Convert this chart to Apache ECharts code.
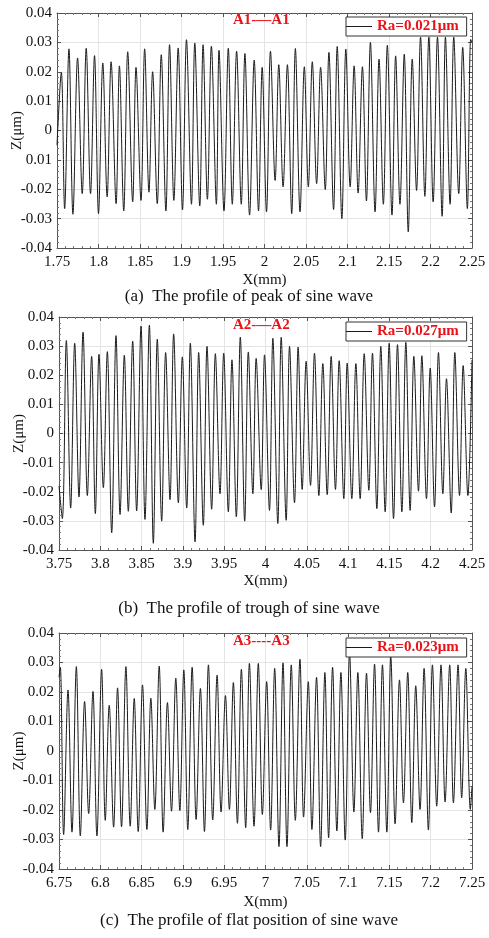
<!DOCTYPE html>
<html>
<head>
<meta charset="utf-8">
<script src="https://cdn.jsdelivr.net/npm/echarts@6/dist/echarts.min.js"></script>
<style>
html,body{margin:0;padding:0;background:#fff;}
#chart{width:489px;height:938px;}
</style>
</head>
<body>
<div id="chart"></div>
<script>
// Surface profiles: positions of the turning points (mm) and heights (µm)

// A1 — peak of the sine wave
const a1X = [1.7500,1.7552,1.7592,1.7644,1.7692,1.7748,1.7804,1.7852,1.7904,1.7952,1.8000,1.8052,1.8104,1.8152,1.8212,1.8252,1.8304,1.8352,1.8412,1.8452,1.8512,1.8556,1.8608,1.8652,1.8708,1.8756,1.8812,1.8856,1.8908,1.8960,1.9012,1.9060,1.9120,1.9160,1.9220,1.9260,1.9312,1.9360,1.9420,1.9452,1.9512,1.9564,1.9612,1.9664,1.9720,1.9764,1.9820,1.9876,1.9928,1.9972,2.0024,2.0072,2.0128,2.0172,2.0224,2.0276,2.0328,2.0372,2.0428,2.0480,2.0528,2.0576,2.0628,2.0676,2.0732,2.0776,2.0832,2.0876,2.0932,2.0980,2.1032,2.1080,2.1128,2.1180,2.1228,2.1276,2.1332,2.1380,2.1432,2.1480,2.1536,2.1580,2.1632,2.1684,2.1732,2.1780,2.1832,2.1880,2.1932,2.1980,2.2032,2.2084,2.2140,2.2180,2.2236,2.2280,2.2340,2.2388,2.2444,2.2484,2.2500];
const a1Z = [-0.005,0.0198,-0.0266,0.0278,-0.0285,0.0247,-0.0215,0.0280,-0.0215,0.0255,-0.0283,0.0230,-0.0226,0.0234,-0.0249,0.0220,-0.0274,0.0268,-0.0243,0.0215,-0.0238,0.0278,-0.0210,0.0200,-0.0249,0.0258,-0.0274,0.0292,-0.0238,0.0281,-0.0270,0.0309,-0.0251,0.0298,-0.0257,0.0292,-0.0234,0.0287,-0.0251,0.0273,-0.0274,0.0280,-0.0251,0.0270,-0.0251,0.0262,-0.0288,0.0240,-0.0274,0.0215,-0.0277,0.0270,-0.0170,0.0224,-0.0192,0.0224,-0.0283,0.0279,-0.0277,0.0217,-0.0192,0.0234,-0.0181,0.0215,-0.0201,0.0266,-0.0269,0.0286,-0.0300,0.0277,-0.0192,0.0220,-0.0213,0.0217,-0.0240,0.0300,-0.0277,0.0243,-0.0251,0.0290,-0.0288,0.0254,-0.0251,0.0260,-0.0345,0.0243,-0.0204,0.0318,-0.0224,0.0318,-0.0243,0.0318,-0.0292,0.0318,-0.0251,0.0318,-0.0215,0.0283,-0.0266,0.0310,0.0300];

// A2 — trough of the sine wave
const a2X = [3.7500,3.7540,3.7589,3.7641,3.7690,3.7742,3.7791,3.7843,3.7895,3.7940,3.7984,3.8037,3.8085,3.8138,3.8190,3.8239,3.8291,3.8339,3.8392,3.8440,3.8493,3.8541,3.8594,3.8642,3.8690,3.8743,3.8791,3.8844,3.8888,3.8945,3.8993,3.9046,3.9090,3.9147,3.9191,3.9247,3.9292,3.9348,3.9393,3.9449,3.9494,3.9550,3.9594,3.9647,3.9695,3.9748,3.9792,3.9847,3.9887,3.9948,3.9988,4.0048,4.0089,4.0149,4.0190,4.0250,4.0291,4.0351,4.0395,4.0444,4.0492,4.0545,4.0593,4.0646,4.0694,4.0747,4.0795,4.0847,4.0892,4.0948,4.0989,4.1045,4.1094,4.1146,4.1195,4.1251,4.1295,4.1348,4.1396,4.1449,4.1497,4.1550,4.1598,4.1651,4.1699,4.1751,4.1796,4.1852,4.1893,4.1949,4.1994,4.2046,4.2094,4.2147,4.2191,4.2248,4.2292,4.2349,4.2393,4.2450,4.2500];
const a2Z = [-0.018,-0.0292,0.0319,-0.0256,0.0310,-0.0218,0.0348,-0.0213,0.0265,-0.0275,0.0272,-0.0186,0.0281,-0.0341,0.0336,-0.0278,0.0269,-0.0267,0.0317,-0.0266,0.0369,-0.0295,0.0372,-0.0377,0.0324,-0.0301,0.0278,-0.0227,0.0342,-0.0238,0.0263,-0.0256,0.0310,-0.0372,0.0278,-0.0315,0.0299,-0.0260,0.0274,-0.0207,0.0276,-0.0269,0.0253,-0.0286,0.0331,-0.0301,0.0280,-0.0207,0.0258,-0.0193,0.0270,-0.0264,0.0327,-0.0309,0.0330,-0.0298,0.0299,-0.0238,0.0297,-0.0192,0.0248,-0.0178,0.0276,-0.0213,0.0240,-0.0210,0.0265,-0.0192,0.0250,-0.0224,0.0242,-0.0224,0.0240,-0.0224,0.0274,-0.0195,0.0276,-0.0258,0.0299,-0.0269,0.0310,-0.0292,0.0305,-0.0269,0.0313,-0.0264,0.0265,-0.0198,0.0267,-0.0224,0.0225,-0.0252,0.0278,-0.0207,0.0188,-0.0273,0.0278,-0.0213,0.0233,-0.0213,0.0253];

// A3 — flat position of the sine wave
const a3X = [6.7500,6.7516,6.7556,6.7609,6.7657,6.7710,6.7758,6.7810,6.7859,6.7911,6.7959,6.8016,6.8060,6.8108,6.8161,6.8209,6.8257,6.8310,6.8362,6.8411,6.8459,6.8511,6.8564,6.8612,6.8660,6.8713,6.8761,6.8813,6.8862,6.8914,6.8963,6.9011,6.9059,6.9112,6.9160,6.9212,6.9261,6.9309,6.9361,6.9414,6.9462,6.9515,6.9563,6.9611,6.9660,6.9708,6.9760,6.9805,6.9861,6.9913,6.9962,7.0014,7.0062,7.0111,7.0163,7.0212,7.0260,7.0312,7.0361,7.0417,7.0461,7.0518,7.0562,7.0618,7.0667,7.0719,7.0764,7.0812,7.0864,7.0913,7.0965,7.1018,7.1070,7.1118,7.1171,7.1223,7.1271,7.1320,7.1368,7.1416,7.1469,7.1517,7.1569,7.1622,7.1670,7.1722,7.1771,7.1819,7.1871,7.1920,7.1972,7.2021,7.2073,7.2125,7.2174,7.2230,7.2275,7.2331,7.2375,7.2425,7.2480,7.2500];
const a3Z = [0.025,0.0284,-0.0283,0.0207,-0.0275,0.0286,-0.0288,0.0168,-0.0212,0.0202,-0.0288,0.0277,-0.0235,0.0155,-0.0258,0.0214,-0.0257,0.0286,-0.0255,0.0178,-0.0273,0.0224,-0.0266,0.0179,-0.0198,0.0288,-0.0275,0.0164,-0.0204,0.0247,-0.0202,0.0275,-0.0266,0.0284,-0.0232,0.0212,-0.0273,0.0292,-0.0234,0.0257,-0.0207,0.0188,-0.0198,0.0232,-0.0245,0.0277,-0.0260,0.0297,-0.0255,0.0297,-0.0215,0.0235,-0.0268,0.0280,-0.0324,0.0299,-0.0324,0.0292,-0.0235,0.0311,-0.0224,0.0235,-0.0266,0.0250,-0.0324,0.0266,-0.0294,0.0284,-0.0271,0.0266,-0.0302,0.0330,-0.0207,0.0266,-0.0297,0.0264,-0.0209,0.0295,-0.0275,0.0292,-0.0275,0.0320,-0.0247,0.0241,-0.0176,0.0266,-0.0243,0.0221,-0.0198,0.0280,-0.0268,0.0292,-0.0187,0.0292,-0.0173,0.0292,-0.0176,0.0292,-0.0159,0.0280,-0.0198,-0.0120];

// Axis ranges and labels
const xRanges = [[1.75, 2.25], [3.75, 4.25], [6.75, 7.25]];
const zTicks = [-0.04, -0.03, -0.02, -0.01, 0, 0.01, 0.02, 0.03, 0.04];
const zTickLabels1 = ['-0.04', '-0.03', '-0.02', '0.01', '0', '0.01', '0.02', '0.03', '0.04'];
const zTickLabels = ['-0.04', '-0.03', '-0.02', '-0.01', '0', '0.01', '0.02', '0.03', '0.04'];
const sectionNames = ['A1-\u2014A1', 'A2-\u2014A2', 'A3----A3'];
const raNames = ['Ra=0.021\u03bcm', 'Ra=0.027\u03bcm', 'Ra=0.023\u03bcm'];
const captions = ['(a)  The profile of peak of sine wave', '(b)  The profile of trough of sine wave', '(c)  The profile of flat position of sine wave'];

const profiles = [[a1X, a1Z], [a2X, a2Z], [a3X, a3Z]];
const zLabelSets = [zTickLabels1, zTickLabels, zTickLabels];

const FONT = '"Liberation Serif", "Times New Roman", serif';
const RED = '#e8141a';

// panel geometry
const panels = [
  { left: 57, top: 13, height: 235, nameGap: 25, capTop: 288, legTop: 17, titleTop: 13 },
  { left: 59, top: 317, height: 233, nameGap: 24, capTop: 600, legTop: 322, titleTop: 318 },
  { left: 59, top: 633, height: 236, nameGap: 26, capTop: 912, legTop: 638, titleTop: 634 }
];

const grid = [], xAxis = [], yAxis = [], series = [], legend = [], title = [];

panels.forEach((p, i) => {
  grid.push({ left: p.left, right: 17, top: p.top, height: p.height, containLabel: false, outerBoundsMode: 'none' });
  const tickCommon = { show: true, inside: true, length: 4, lineStyle: { color: '#555' } };
  const minorCommon = { show: true, splitNumber: 5, length: 2, lineStyle: { color: '#777' } };
  const lineCommon = { show: true, onZero: false, lineStyle: { color: '#555', width: 1 } };
  // bottom axis
  xAxis.push({
    type: 'value', gridIndex: i, position: 'bottom',
    min: xRanges[i][0], max: xRanges[i][1], interval: 0.05,
    axisLine: lineCommon, axisTick: tickCommon, minorTick: minorCommon,
    splitLine: { show: true, lineStyle: { color: '#e4e4e4', width: 1 } },
    axisLabel: { color: '#111', fontFamily: FONT, fontSize: 15, margin: 7, hideOverlap: false },
    name: 'X(mm)', nameLocation: 'middle', nameGap: p.nameGap, nameMoveOverlap: false,
    nameTextStyle: { color: '#111', fontFamily: FONT, fontSize: 15 }
  });
  // top mirror axis
  xAxis.push({
    type: 'value', gridIndex: i, position: 'top',
    min: xRanges[i][0], max: xRanges[i][1], interval: 0.05,
    axisLine: lineCommon, axisTick: tickCommon, minorTick: minorCommon,
    splitLine: { show: false }, axisLabel: { show: false }
  });
  const labels = zLabelSets[i];
  yAxis.push({
    type: 'value', gridIndex: i, position: 'left',
    min: -0.04, max: 0.04, interval: 0.01,
    axisLine: lineCommon, axisTick: tickCommon, minorTick: minorCommon,
    splitLine: { show: true, lineStyle: { color: '#e4e4e4', width: 1 } },
    axisLabel: {
      color: '#111', fontFamily: FONT, fontSize: 15, margin: 5,
      formatter: v => {
        const k = zTicks.findIndex(t => Math.abs(t - v) < 1e-9);
        return k >= 0 ? labels[k] : '';
      }
    },
    name: 'Z(\u03bcm)', nameLocation: 'middle', nameGap: 32, nameRotate: 90, nameMoveOverlap: false,
    nameTextStyle: { color: '#111', fontFamily: FONT, fontSize: 15 }
  });
  yAxis.push({
    type: 'value', gridIndex: i, position: 'right',
    min: -0.04, max: 0.04, interval: 0.01,
    axisLine: lineCommon, axisTick: tickCommon, minorTick: minorCommon,
    splitLine: { show: false }, axisLabel: { show: false }
  });
  const [xs, zs] = profiles[i];
  series.push({
    name: raNames[i], type: 'line',
    xAxisIndex: i * 2, yAxisIndex: i * 2,
    data: xs.map((x, k) => [x, zs[k]]),
    showSymbol: false, smooth: 0.35, clip: true,
    lineStyle: { color: '#1a1a1a', width: 1 }, itemStyle: { color: '#1a1a1a' },
    z: 2
  });
  legend.push({
    data: [raNames[i]], left: 346, top: p.legTop, orient: 'horizontal',
    icon: 'rect', itemWidth: 26, itemHeight: 1, itemGap: 0,
    padding: [2, 8, 2, 0], borderColor: '#333', borderWidth: 1, backgroundColor: '#fff',
    selectedMode: false, z: 10,
    textStyle: { color: RED, fontFamily: FONT, fontWeight: 'bold', fontSize: 15, padding: [0, 0, 0, 0] }
  });
  title.push({
    text: sectionNames[i], left: 233, top: p.titleTop, padding: 0,
    textStyle: { color: RED, fontFamily: FONT, fontWeight: 'bold', fontSize: 15 }
  });
  title.push({
    text: captions[i], left: 249, top: p.capTop, textAlign: 'center', padding: 0,
    textStyle: { color: '#111', fontFamily: FONT, fontWeight: 'normal', fontSize: 17 }
  });
});

const chart = echarts.init(document.getElementById('chart'), null, { renderer: 'canvas' });
chart.setOption({
  backgroundColor: '#fff',
  animation: false,
  title, grid, xAxis, yAxis, series, legend
});
</script>
</body>
</html>
